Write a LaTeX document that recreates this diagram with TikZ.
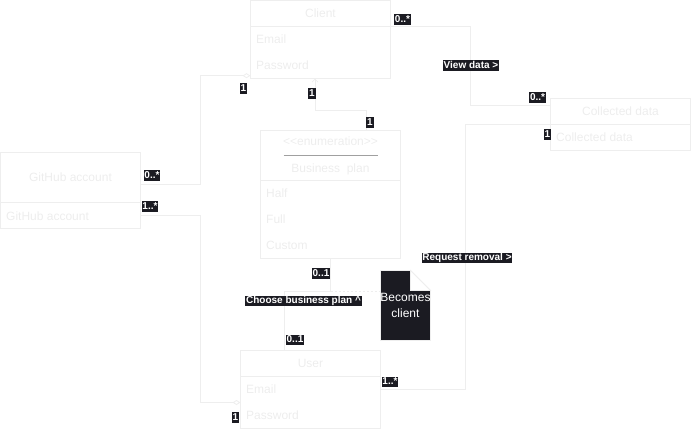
\documentclass[tikz,border=0pt]{standalone}
\usepackage{fontspec}
\setmainfont{Liberation Sans}
\usetikzlibrary{arrows.meta}
\definecolor{lt}{HTML}{EEEEEE}
\definecolor{lttext}{HTML}{EDEDED}
\definecolor{lbl}{HTML}{1B1B22}
\definecolor{rulegray}{HTML}{A0A0A0}
\tikzset{
  odiam/.tip={Diamond[open, fill=white, length=8pt, width=5pt]},
  obarb/.tip={Straight Barb[length=3pt, width=6pt]}}
\begin{document}
\begin{tikzpicture}[x=1pt,y=-1pt,
  cbox/.style={draw=lt, line width=0.8pt, anchor=north west, minimum width=140pt, inner sep=0pt, outer sep=0pt},
  ctext/.style={text=lttext, font=\fontsize{12}{14}\selectfont, inner sep=0pt},
  attr/.style={ctext, anchor=west},
  mult/.style={fill=lbl, text=white, font=\fontsize{10}{10}\selectfont\bfseries, inner xsep=0.8pt, inner ysep=0.8pt, text height=7.4pt, text depth=1.8pt},
  conn/.style={draw=lt, line width=0.8pt}]
\useasboundingbox (0,0) rectangle (691,432);

% Client
\node[cbox, minimum height=26pt] (clientH) at (250.5,0.5) {};
\node[cbox, minimum height=52pt] (clientB) at (250.5,26.5) {};
\node[ctext] (clientT) at (clientH.center) {Client};
\node[attr] (clientA1) at (256,39.5) {Email};
\node[attr] (clientA2) at (256,65.5) {Password};

% Business plan
\node[cbox, minimum height=50pt] (bpH) at (260.5,130.5) {};
\node[cbox, minimum height=78pt] (bpB) at (260.5,180.5) {};
\node[ctext] (bpS) at (330.5,141.5) {<{}<enumeration>{}>};
\draw[rulegray, line width=0.9pt] ([xshift=-47pt]bpS.south |- 0,155.7) -- ([xshift=47pt]bpS.south |- 0,155.7);
\node[ctext] (bpT) at (330.5,169) {Business\ \ plan};
\node[attr] (bpA1) at (266,193.5) {Half};
\node[attr] (bpA2) at (266,219.5) {Full};
\node[attr] (bpA3) at (266,245.5) {Custom};

% GitHub account
\node[cbox, minimum height=50pt] (ghH) at (0.5,152.5) {};
\node[cbox, minimum height=26pt] (ghB) at (0.5,202.5) {};
\node[ctext] (ghT) at (ghH.center) {GitHub account};
\node[attr] (ghA1) at (6,216) {GitHub account};

% Collected data
\node[cbox, minimum height=26pt] (collH) at (550.5,98.5) {};
\node[cbox, minimum height=26pt] (collB) at (550.5,124.5) {};
\node[ctext] (collT) at (collH.center) {Collected data};
\node[attr] (collA1) at (556,137.5) {Collected data};

% User
\node[cbox, minimum height=26pt] (userH) at (240.5,350.5) {};
\node[cbox, minimum height=52pt] (userB) at (240.5,376.5) {};
\node[ctext] (userT) at (userH.center) {User};
\node[attr] (userA1) at (246,389.5) {Email};
\node[attr] (userA2) at (246,415.5) {Password};

% Note
\node[minimum width=50pt, minimum height=70pt, inner sep=0pt, outer sep=0pt] (note) at (405.5,305.5) {};
\filldraw[fill=lbl, draw=lt, line width=0.8pt] (note.north west) -- ([xshift=-20pt]note.north east) -- ([yshift=-20pt]note.north east) -- (note.south east) -- (note.south west) -- cycle;
\filldraw[fill=white, draw=lt, line width=0.8pt] ([xshift=-20pt]note.north east) -- ([xshift=-20pt,yshift=-20pt]note.north east) -- ([yshift=-20pt]note.north east) -- cycle;
\node[text=white, font=\fontsize{12}{16}\selectfont, align=center, inner sep=0pt] (noteT) at (405.5,305.5) {Becomes\\client};

% Connectors
\draw[conn, {odiam}-] ([yshift=2.8pt]clientB.south west) -- ++(-49.8,0) |- ([yshift=-6.5pt]ghH.east);
\draw[conn, -{odiam}] (ghB.east) -- ++(60.2,0) |- (userB.west);
\draw[conn, {obarb}-] ([xshift=-5.5pt]clientB.south) -- ++(0,31.5) -| ([xshift=35.5pt]bpH.north);
\draw[conn] (clientH.south east) -- ++(80.2,0) |- ([yshift=6.5pt]collH.west);
\draw[conn] (collH.south west) -- ++(-85.5,0) |- ([yshift=13.5pt]userB.east);
\draw[conn] (bpB.south) -- ++(0,32.5) coordinate (bend) -| ([xshift=-26pt]userH.north);
\draw[conn, dash pattern=on 2pt off 2pt] (bend) -- (bend -| note.west);

% Labels
\node[mult] (m1) at (243.5,88.5) {1};
\node[mult] (m2) at (152,175.5) {0..*};
\node[mult] (m3) at (150,206.5) {1..*};
\node[mult] (m4) at (235.5,417.5) {1};
\node[mult] (m5) at (312,93.5) {1};
\node[mult] (m6) at (370,122.5) {1};
\node[mult] (m7) at (402.5,19.5) {0..*};
\node[mult] (m8) at (471,65.5) {View data >};
\node[mult] (m9) at (537.5,97.5) {0..*};
\node[mult] (m10) at (547.5,134.5) {1};
\node[mult] (m11) at (467,258) {Request removal >};
\node[mult] (m12) at (390,382) {1..*};
\node[mult] (m13) at (321,273.5) {0..1};
\node[mult] (m14) at (303.5,301) {Choose business plan \textasciicircum};
\node[mult] (m15) at (295,340) {0..1};
\end{tikzpicture}
\end{document}
